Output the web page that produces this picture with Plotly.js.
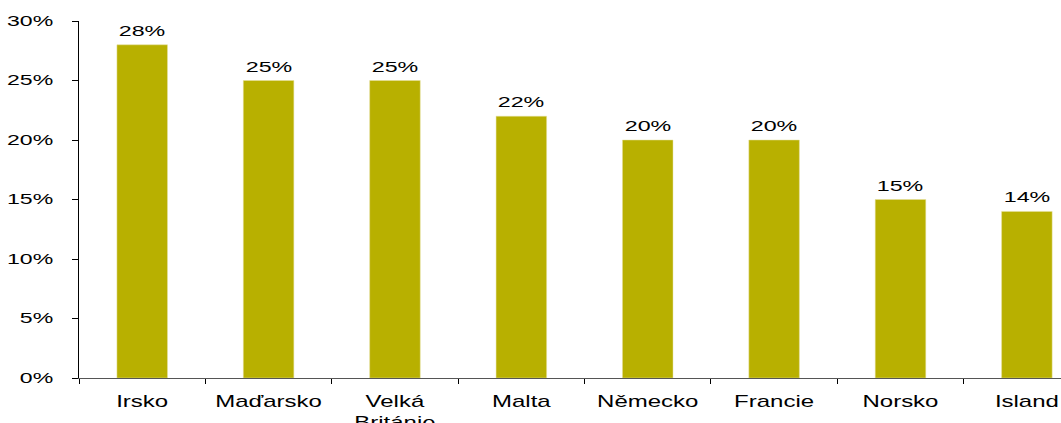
<!DOCTYPE html>
<html>
<head>
<meta charset="utf-8">
<script src="https://cdn.plot.ly/plotly-3.0.1.min.js"></script>
<style>
html,body{margin:0;padding:0;overflow:hidden;background:#fff;}
#chart{width:1061px;height:423px;}
</style>
</head>
<body>
<div id="chart"></div>
<script>
const categories = ["Irsko", "Maďarsko", "Velká<br>Británie", "Malta", "Německo", "Francie", "Norsko", "Island"];
const values = [28, 25, 25, 22, 20, 20, 15, 14];
const labels = values.map(v => v + "%");
const yTickVals = [0, 5, 10, 15, 20, 25, 30];
const yTickText = ["0%", "5%", "10%", "15%", "20%", "25%", "30%"];

const fontFam = "Liberation Sans, Arial, sans-serif";

function stretch(selector, s, dy) {
  document.querySelectorAll(selector).forEach(t => {
    const bb = t.getBBox();
    const anchor = t.getAttribute("text-anchor") || t.style.textAnchor || "start";
    let ax = bb.x;
    if (anchor === "middle") ax = bb.x + bb.width / 2;
    else if (anchor === "end") ax = bb.x + bb.width;
    const prev = t.getAttribute("transform") || "";
    t.setAttribute("transform", prev + " translate(0," + (dy || 0) + ") translate(" + ax + ",0) scale(" + s + ",1) translate(" + (-ax) + ",0)");
  });
}

const annotations = categories.map((c, i) => ({
  x: c, y: values[i], xref: "x", yref: "y",
  text: labels[i], showarrow: false,
  yanchor: "bottom", yshift: 4,
  font: {family: fontFam, size: 15, color: "#000"}
}));

Plotly.newPlot("chart", [{
  type: "bar",
  x: categories,
  y: values,
  marker: {color: "#B8B000", line: {color: "#E6E0A0", width: 0.5}},
  width: 0.4,
  hoverinfo: "skip"
}], {
  width: 1061,
  height: 423,
  margin: {l: 79, r: 0, t: 21, b: 45},
  paper_bgcolor: "#fff",
  plot_bgcolor: "#fff",
  showlegend: false,
  annotations: annotations,
  xaxis: {
    type: "category",
    range: [-0.5, 7.27],
    tickson: "boundaries",
    ticks: "outside",
    ticklen: 5,
    tickcolor: "#000",
    showline: true,
    linecolor: "#555",
    linewidth: 1,
    showgrid: false,
    zeroline: false,
    tickfont: {family: fontFam, size: 16, color: "#000"},
    ticklabelstandoff: 9,
    fixedrange: true
  },
  yaxis: {
    range: [0, 30],
    tickvals: yTickVals,
    ticktext: yTickText,
    ticks: "outside",
    ticklen: 6,
    tickcolor: "#000",
    showline: true,
    linecolor: "#000",
    linewidth: 1,
    showgrid: false,
    zeroline: false,
    tickfont: {family: fontFam, size: 14, color: "#000"},
    ticklabelstandoff: 16,
    fixedrange: true
  }
}, {displayModeBar: false, staticPlot: true}).then(() => {
  stretch(".xtick text", 1.5, 0);
  stretch(".ytick text", 1.65, 0);
  stretch(".annotation-text", 1.55, 0);
});
</script>
</body>
</html>
